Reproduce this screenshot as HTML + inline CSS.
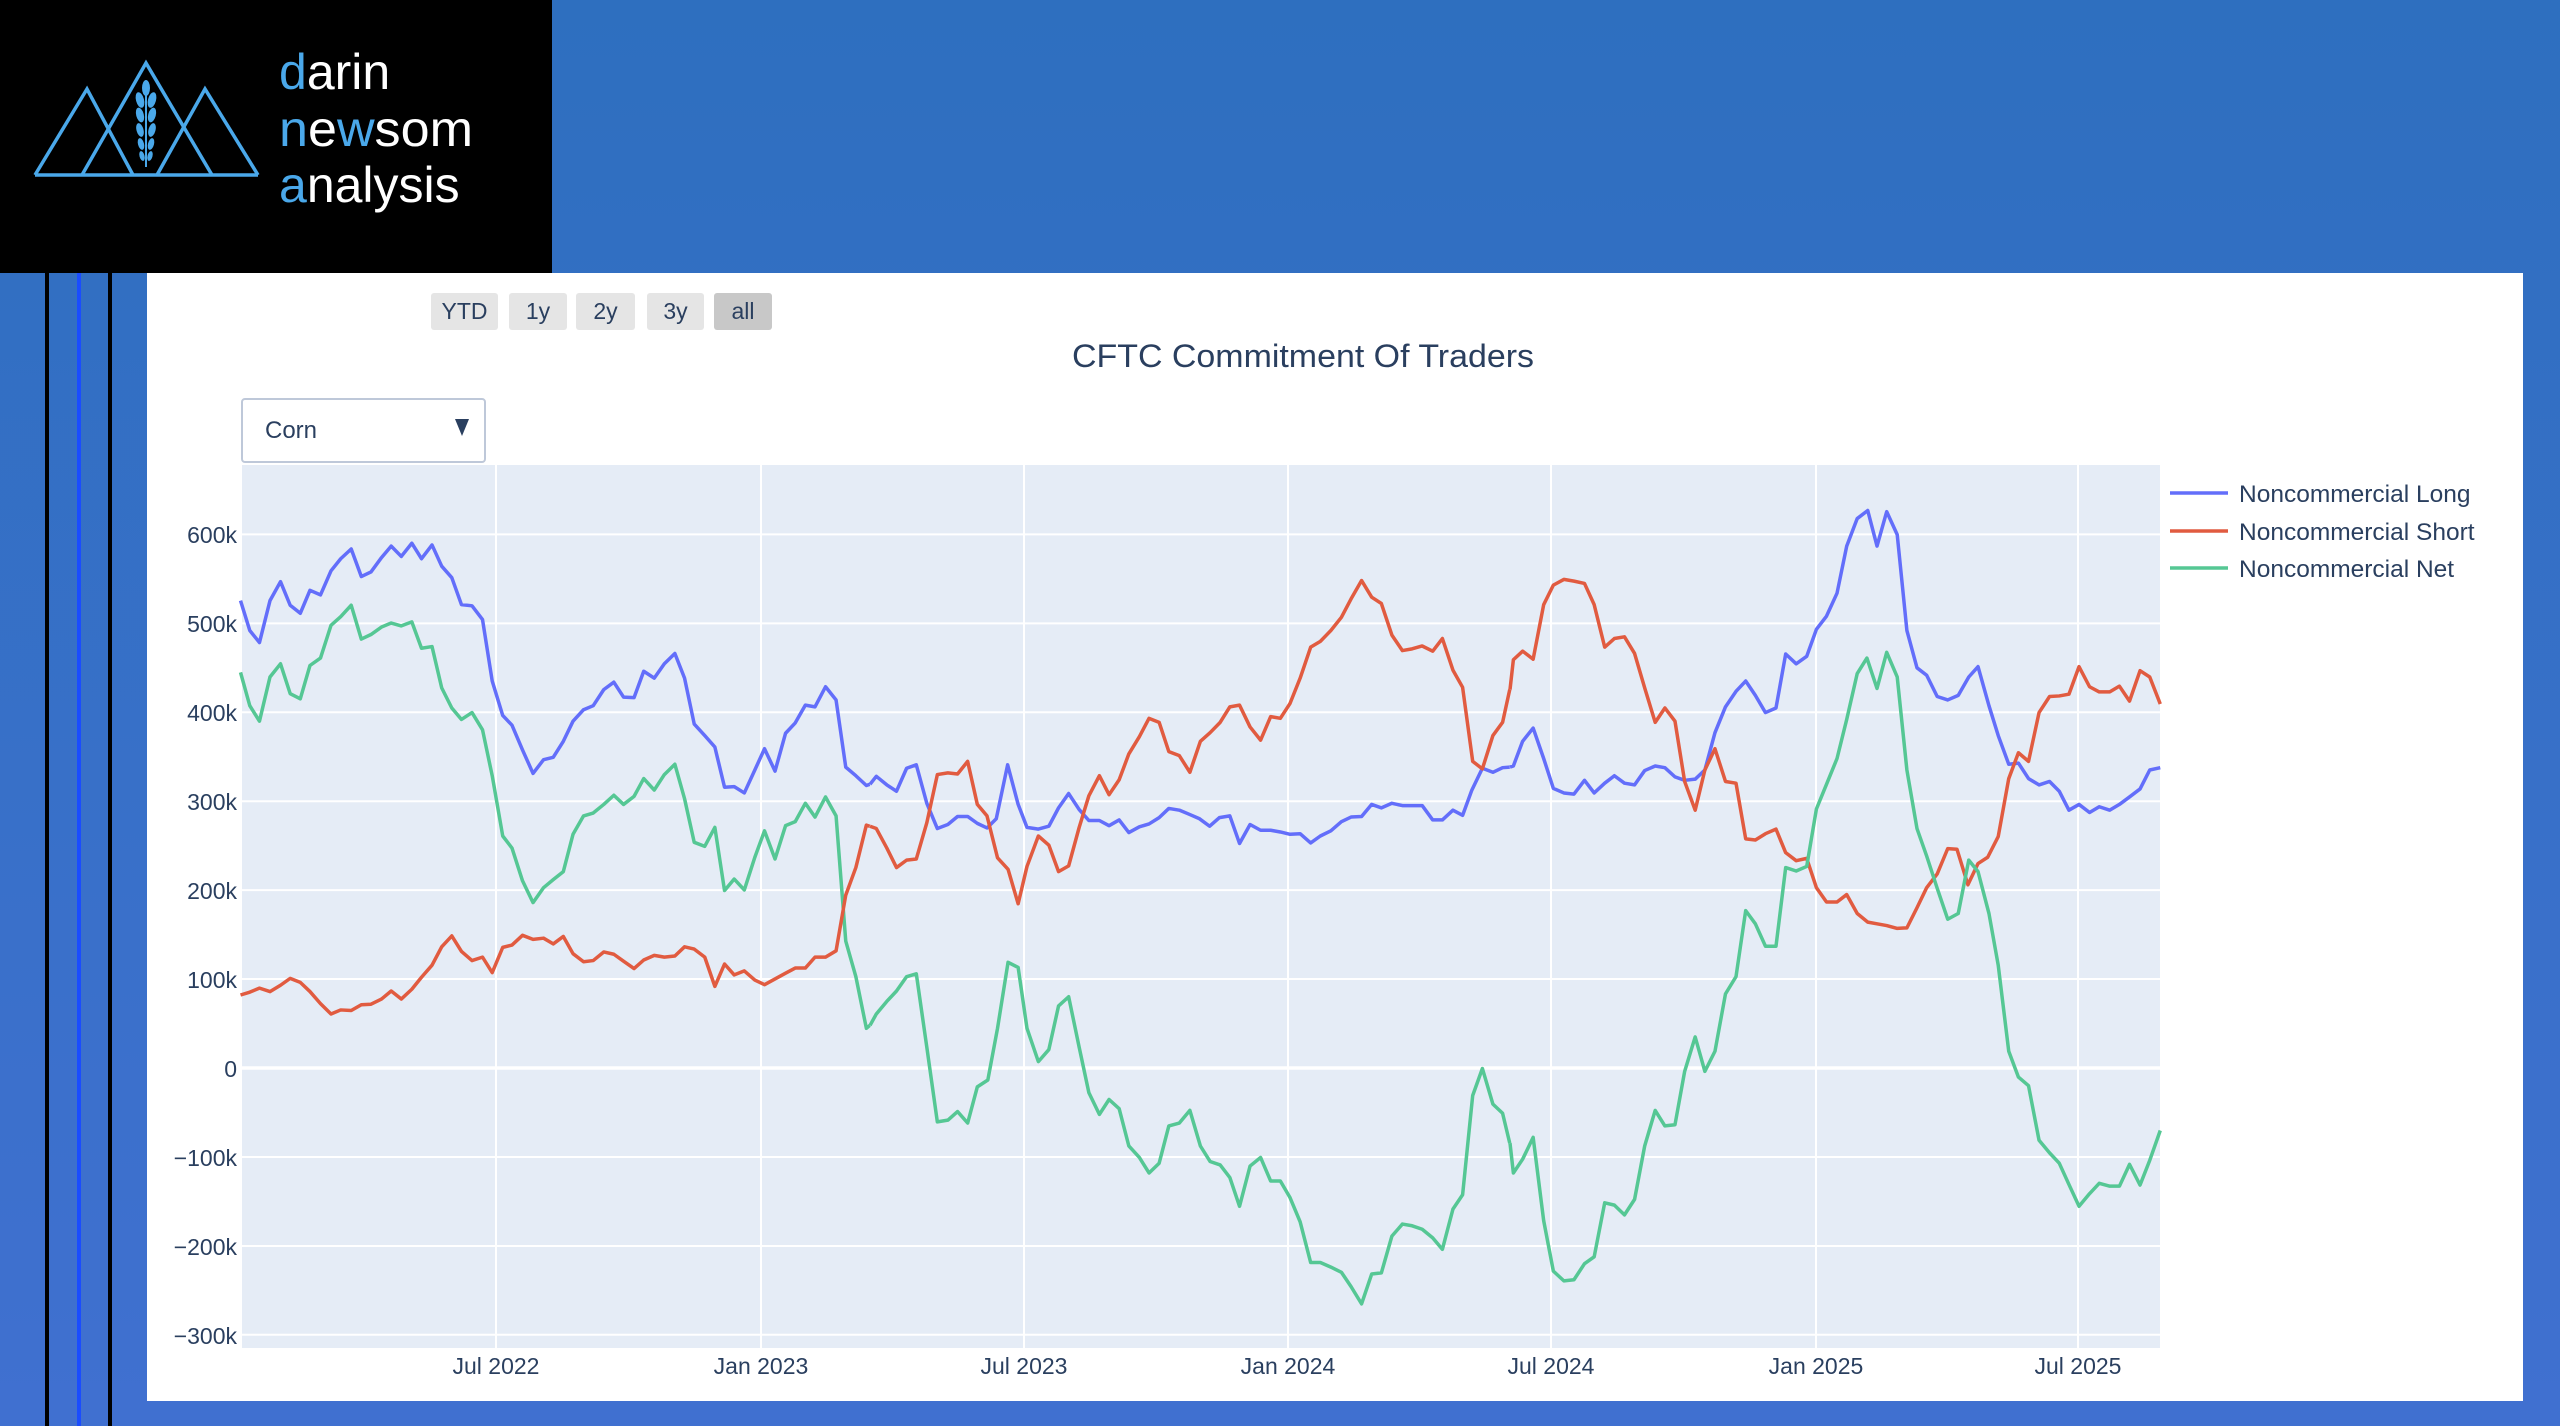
<!DOCTYPE html>
<html><head><meta charset="utf-8">
<style>
html,body{margin:0;padding:0;width:2560px;height:1426px;overflow:hidden;}
body{background:linear-gradient(#2e6fbf,#4070d0);}
svg{display:block;}
text{font-family:"Liberation Sans",sans-serif;}
</style></head><body>
<svg width="2560" height="1426" viewBox="0 0 2560 1426" xmlns="http://www.w3.org/2000/svg">
<defs><linearGradient id="bg" x1="0" y1="0" x2="0" y2="1"><stop offset="0" stop-color="#2e6fbf"/><stop offset="1" stop-color="#4070d0"/></linearGradient></defs>
<rect x="0" y="0" width="2560" height="1426" fill="url(#bg)"/>
<!-- logo -->
<rect x="0" y="0" width="552" height="273" fill="#000"/>
<g fill="none" stroke="#4aa8ea" stroke-width="3.5" stroke-linejoin="miter">
<polyline points="35,175 258,175"/>
<polyline points="35,175 87,89 133,175"/>
<polyline points="82,175 146,63 212,175"/>
<polyline points="157,175 205,89 258,175"/>
<line x1="146" y1="95" x2="146" y2="167" stroke-width="2"/>
</g>
<g fill="#4aa8ea">
<ellipse cx="146" cy="88" rx="4" ry="8"/>
<ellipse cx="140" cy="100" rx="4" ry="8" transform="rotate(-15 140 100)"/><ellipse cx="152" cy="100" rx="4" ry="8" transform="rotate(15 152 100)"/>
<ellipse cx="140" cy="115" rx="3.8" ry="7.5" transform="rotate(-15 140 115)"/><ellipse cx="152" cy="115" rx="3.8" ry="7.5" transform="rotate(15 152 115)"/>
<ellipse cx="140" cy="130" rx="3.5" ry="7" transform="rotate(-15 140 130)"/><ellipse cx="152" cy="130" rx="3.5" ry="7" transform="rotate(15 152 130)"/>
<ellipse cx="141" cy="144" rx="3" ry="6" transform="rotate(-15 141 144)"/><ellipse cx="151" cy="144" rx="3" ry="6" transform="rotate(15 151 144)"/>
<ellipse cx="142" cy="156" rx="2.5" ry="5" transform="rotate(-15 142 156)"/><ellipse cx="150" cy="156" rx="2.5" ry="5" transform="rotate(15 150 156)"/>
</g>
<g font-size="50" fill="#fff">
<text x="279" y="89"><tspan fill="#4aa8ea">d</tspan>arin</text>
<text x="279" y="146" textLength="194" lengthAdjust="spacingAndGlyphs"><tspan fill="#4aa8ea">n</tspan>e<tspan fill="#4aa8ea">w</tspan>som</text>
<text x="279" y="202"><tspan fill="#4aa8ea">a</tspan>nalysis</text>
</g>
<!-- stripes -->
<rect x="45" y="273" width="4" height="1153" fill="#000"/>
<rect x="77" y="273" width="4" height="1153" fill="#1a4cff"/>
<rect x="108" y="273" width="4" height="1153" fill="#000"/>
<!-- panel -->
<rect x="147" y="273" width="2376" height="1128" fill="#fff"/>
<!-- buttons -->
<g font-size="23" fill="#2a3f5f" text-anchor="middle">
<rect x="431" y="293" width="67" height="37" rx="3" fill="#e5e5e5"/><text x="464.5" y="319">YTD</text>
<rect x="509" y="293" width="58" height="37" rx="3" fill="#e5e5e5"/><text x="538" y="319">1y</text>
<rect x="576" y="293" width="59" height="37" rx="3" fill="#e5e5e5"/><text x="605.5" y="319">2y</text>
<rect x="647" y="293" width="57" height="37" rx="3" fill="#e5e5e5"/><text x="675.5" y="319">3y</text>
<rect x="714" y="293" width="58" height="37" rx="3" fill="#c8c8c8"/><text x="743" y="319">all</text>
</g>
<text x="1303" y="367" font-size="32" fill="#2a3f5f" text-anchor="middle" textLength="462" lengthAdjust="spacingAndGlyphs">CFTC Commitment Of Traders</text>
<!-- dropdown -->
<rect x="242" y="399" width="243" height="63" rx="3" fill="#fff" stroke="#bec8d9" stroke-width="2"/>
<text x="265" y="438" font-size="24" fill="#2a3f5f">Corn</text>
<polygon points="455,419 469,419 462,436" fill="#2a3f5f"/>
<!-- plot -->
<rect x="242" y="465" width="1918" height="883" fill="#e5ecf6"/>
<g stroke="#fff" stroke-width="2">
<line x1="242" x2="2160" y1="534.4" y2="534.4"/><line x1="242" x2="2160" y1="623.4" y2="623.4"/>
<line x1="242" x2="2160" y1="712.3" y2="712.3"/><line x1="242" x2="2160" y1="801.2" y2="801.2"/>
<line x1="242" x2="2160" y1="890.1" y2="890.1"/><line x1="242" x2="2160" y1="979" y2="979"/>
<line x1="242" x2="2160" y1="1068" y2="1068" stroke-width="3.5"/>
<line x1="242" x2="2160" y1="1157" y2="1157"/><line x1="242" x2="2160" y1="1246" y2="1246"/>
<line x1="242" x2="2160" y1="1334.8" y2="1334.8"/>
<line y1="465" y2="1348" x1="496" x2="496"/><line y1="465" y2="1348" x1="761" x2="761"/>
<line y1="465" y2="1348" x1="1024" x2="1024"/><line y1="465" y2="1348" x1="1288" x2="1288"/>
<line y1="465" y2="1348" x1="1551" x2="1551"/><line y1="465" y2="1348" x1="1816" x2="1816"/>
<line y1="465" y2="1348" x1="2078" x2="2078"/>
</g>
<g font-size="23" fill="#2a3f5f" text-anchor="end">
<text x="237" y="543">600k</text><text x="237" y="632">500k</text><text x="237" y="721">400k</text>
<text x="237" y="810">300k</text><text x="237" y="899">200k</text><text x="237" y="988">100k</text>
<text x="237" y="1077">0</text><text x="237" y="1166">−100k</text><text x="237" y="1255">−200k</text>
<text x="237" y="1344">−300k</text>
</g>
<g font-size="23" fill="#2a3f5f" text-anchor="middle">
<text x="496" y="1374">Jul 2022</text><text x="761" y="1374">Jan 2023</text><text x="1024" y="1374">Jul 2023</text>
<text x="1288" y="1374">Jan 2024</text><text x="1551" y="1374">Jul 2024</text><text x="1816" y="1374">Jan 2025</text>
<text x="2078" y="1374">Jul 2025</text>
</g>
<!-- series -->
<g fill="none" stroke-width="3.5" stroke-linejoin="round">
<g transform="translate(230,460) scale(0.42088,0.57405)">
<polyline vector-effect="non-scaling-stroke" stroke="#636efa" points="25,245 47,297 70,318 95,245 120,212 143,253 167,267 190,227 215,235 240,193 263,172 288,155 312,203 335,195 360,170 383,150 407,168 432,145 455,172 480,148 503,185 527,205 550,252 575,254 600,278 623,385 648,445 670,462 695,505 720,546 745,522 768,518 792,490 815,455 840,435 863,428 888,400 912,387 935,413 960,414 983,368 1008,380 1032,355 1057,337 1080,380 1103,460 1128,480 1152,500 1175,570 1198,569 1222,580 1247,540 1270,503 1295,542 1320,476 1343,458 1367,427 1390,430 1415,395 1440,418 1463,535 1487,550 1512,567 1520,565"/>
<polyline vector-effect="non-scaling-stroke" stroke="#55c794" points="25,370 47,428 70,455 95,378 120,355 143,407 167,416 190,358 215,345 240,288 263,273 288,253 312,312 335,304 360,291 383,284 407,289 432,282 455,328 480,325 503,397 527,432 550,452 575,440 600,470 623,550 648,655 670,676 695,733 720,771 745,745 768,731 792,717 815,652 840,620 863,615 888,600 912,584 935,600 960,586 983,555 1008,575 1032,548 1057,530 1080,590 1103,666 1128,673 1152,640 1175,750 1198,730 1222,749 1247,692 1270,646 1295,695 1320,637 1343,630 1367,598 1390,622 1415,587 1440,620 1463,838 1487,900 1512,990 1520,985"/>
<polyline vector-effect="non-scaling-stroke" stroke="#e15b40" points="25,932 47,927 70,920 95,926 120,915 143,903 167,910 190,926 215,947 240,965 263,958 288,959 312,949 335,948 360,939 383,925 407,939 432,922 455,901 480,880 503,848 527,829 550,856 575,872 600,866 623,893 648,849 670,845 695,828 720,835 745,833 768,843 792,830 815,860 840,874 863,872 888,857 912,861 935,873 960,886 983,871 1008,863 1032,866 1057,864 1080,848 1103,852 1128,866 1152,917 1175,878 1198,897 1222,890 1247,906 1270,914 1295,904 1320,894 1343,885 1367,885 1390,866 1415,866 1440,855 1463,758 1487,710 1512,636 1520,638"/>
</g>
<g transform="translate(870,460) scale(0.42088,0.57405)">
<polyline vector-effect="non-scaling-stroke" stroke="#636efa" points="0,565 15,551 40,566 63,577 87,537 110,531 135,598 160,642 185,635 208,621 232,621 255,633 278,641 300,625 327,531 352,600 373,640 400,643 425,638 448,606 472,581 497,609 520,628 545,628 568,637 592,627 615,649 640,639 663,634 687,623 710,607 735,610 758,617 783,625 807,638 830,623 855,620 878,668 903,635 928,645 952,645 975,648 998,652 1022,651 1047,667 1070,655 1095,646 1120,630 1143,622 1168,621 1192,600 1215,606 1240,598 1265,602 1288,602 1312,602 1337,627 1360,627 1385,610 1408,619 1430,575 1455,537 1480,544 1503,536 1520,535"/>
<polyline vector-effect="non-scaling-stroke" stroke="#e15b40" points="0,638 15,642 40,676 63,710 87,697 110,695 135,632 160,548 185,545 208,547 232,525 255,600 278,620 303,693 328,713 352,773 373,708 400,655 425,671 448,717 472,707 497,640 520,585 545,550 568,583 592,557 615,512 640,482 663,450 687,457 710,508 735,515 760,544 785,490 808,475 832,457 855,430 878,427 903,465 928,488 952,447 975,450 998,424 1022,380 1047,326 1070,316 1095,297 1120,274 1143,242 1168,210 1192,239 1215,250 1240,305 1265,332 1288,329 1312,324 1337,333 1360,311 1385,366 1408,396 1432,525 1455,538 1480,480 1503,457 1520,400"/>
<polyline vector-effect="non-scaling-stroke" stroke="#55c794" points="0,985 15,965 40,943 63,925 87,900 110,895 135,1023 160,1153 185,1150 208,1135 232,1155 255,1092 280,1080 303,990 328,875 352,884 373,990 400,1048 425,1027 448,951 472,935 497,1023 520,1102 545,1140 568,1114 592,1130 615,1195 640,1215 663,1242 687,1225 710,1160 735,1155 760,1133 785,1195 808,1222 832,1228 855,1250 878,1300 903,1230 928,1215 952,1256 975,1256 998,1285 1022,1327 1047,1398 1070,1398 1095,1406 1120,1415 1143,1440 1168,1470 1192,1418 1215,1416 1240,1352 1265,1331 1288,1334 1312,1340 1337,1355 1360,1375 1385,1305 1408,1280 1432,1107 1455,1060 1480,1122 1503,1138 1520,1190"/>
</g>
<g transform="translate(1510,460) scale(0.42088,0.57405)">
<polyline vector-effect="non-scaling-stroke" stroke="#636efa" points="0,535 8,533 30,490 55,467 80,520 103,572 128,580 152,582 177,558 200,580 225,563 248,550 272,563 296,566 320,541 345,533 368,536 392,552 415,558 440,556 463,540 487,475 512,430 537,403 560,385 583,410 607,440 632,432 655,338 680,355 705,342 728,295 752,272 777,232 800,150 825,102 850,88 872,150 895,90 920,130 943,297 967,362 990,375 1015,412 1040,418 1065,410 1090,378 1112,360 1138,428 1160,480 1185,530 1208,528 1232,555 1257,566 1282,560 1305,577 1328,610 1352,600 1377,614 1400,604 1425,610 1448,600 1472,587 1497,573 1520,540 1545,536"/>
<polyline vector-effect="non-scaling-stroke" stroke="#e15b40" points="0,400 8,348 30,333 55,347 80,252 103,218 128,208 152,211 177,215 200,252 225,326 248,311 272,308 296,337 320,397 345,457 368,432 392,455 415,560 440,610 463,540 487,503 512,560 537,563 560,660 583,662 607,651 632,643 655,684 680,698 705,694 728,745 752,770 777,770 800,757 825,790 850,805 872,808 895,811 920,816 943,815 967,780 990,745 1015,721 1040,677 1062,678 1088,740 1112,703 1135,692 1160,656 1185,555 1208,510 1232,525 1257,440 1282,412 1305,411 1328,408 1352,360 1377,395 1400,404 1425,404 1448,394 1472,420 1497,367 1520,378 1545,425"/>
<polyline vector-effect="non-scaling-stroke" stroke="#55c794" points="0,1190 8,1242 30,1218 55,1180 80,1325 103,1413 128,1430 152,1428 177,1400 200,1388 225,1294 248,1298 272,1315 296,1288 320,1195 345,1133 368,1160 392,1158 415,1065 440,1005 463,1065 487,1030 512,930 537,900 560,785 583,808 607,847 632,847 655,710 680,716 705,708 728,608 752,565 777,520 800,452 825,372 848,345 872,398 895,335 920,378 943,540 967,642 990,690 1015,746 1040,800 1065,790 1090,697 1112,717 1138,790 1160,880 1185,1030 1208,1075 1232,1090 1257,1185 1282,1207 1305,1225 1328,1262 1352,1300 1377,1278 1400,1260 1425,1265 1448,1265 1472,1227 1497,1263 1520,1220 1545,1168"/>
</g>
</g>
<!-- legend -->
<g stroke-width="3.5">
<line x1="2170" x2="2228" y1="493" y2="493" stroke="#636efa"/>
<line x1="2170" x2="2228" y1="531" y2="531" stroke="#e15b40"/>
<line x1="2170" x2="2228" y1="568" y2="568" stroke="#55c794"/>
</g>
<g font-size="24.5" fill="#2a3f5f">
<text x="2239" y="502">Noncommercial Long</text>
<text x="2239" y="540">Noncommercial Short</text>
<text x="2239" y="577">Noncommercial Net</text>
</g>
</svg>
</body></html>
